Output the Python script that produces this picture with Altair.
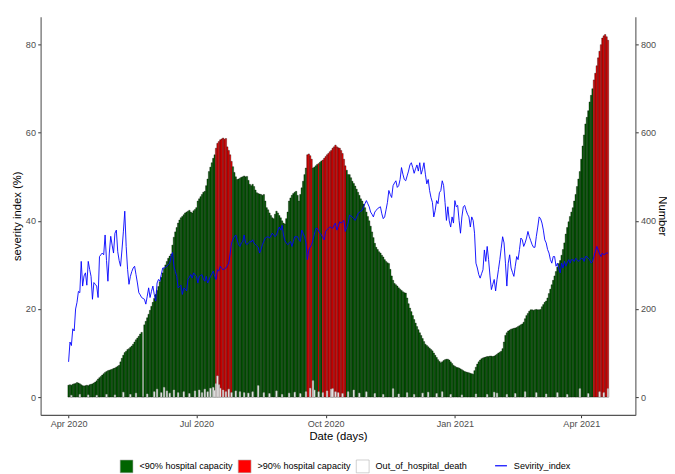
import altair as alt
import pandas as pd

# ---- data (one value per day, starting 2020-04-01) ----
hospital = [
    27, 28, 27, 29, 30, 31, 33, 32, 30, 28,
    26, 25, 26, 27, 26, 28, 29, 30, 32, 34,
    37, 41, 44, 47, 50, 53, 56, 58, 60, 61,
    62, 63, 65, 66, 68, 70, 72, 80, 88, 95,
    101, 104, 108, 110, 113, 116, 120, 125, 130, 134,
    138, 143, 147, 0, 164, 172, 180, 188, 197, 206,
    215, 224, 233, 242, 251, 262, 272, 282, 292, 300,
    308, 315, 320, 325, 345, 363, 375, 385, 395, 402,
    407, 410, 414, 418, 420, 422, 424, 420, 418, 423,
    426, 430, 445, 450, 455, 460, 465, 467, 480, 495,
    512, 522, 532, 542, 550, 565, 576, 580, 584, 586,
    588, 585, 587, 568, 560, 550, 535, 523, 510, 500,
    494, 495, 497, 499, 500, 502, 500, 501, 492, 483,
    480, 483, 478, 470, 464, 462, 461, 460, 458, 460,
    445, 430, 425, 418, 412, 407, 405, 415, 422, 418,
    412, 407, 400, 395, 393, 405, 420, 445, 452, 458,
    462, 465, 467, 458, 445, 460, 475, 490, 505, 520,
    550, 552, 548, 540, 520, 522, 525, 528, 530, 533,
    536, 538, 542, 546, 550, 553, 557, 560, 565, 568,
    572, 568, 566, 565, 560, 553, 540, 525, 515, 505,
    505, 498, 490, 485, 479, 472, 465, 458, 450, 445,
    438, 430, 420, 410, 400, 388, 375, 362, 349, 340,
    335, 330, 327, 322, 318, 312, 308, 305, 303, 290,
    275, 265, 258, 255, 252, 248, 245, 242, 239, 237,
    236, 225, 212, 202, 194, 185, 176, 168, 160, 153,
    146, 140, 133, 126, 120, 117, 114, 111, 108, 105,
    100, 95, 90, 85, 81, 78, 80, 83, 85, 86,
    86, 84, 80, 76, 72, 70, 68, 67, 66, 64,
    62, 60, 58, 57, 56, 55, 54, 53, 52, 60,
    68, 75, 80, 84, 87, 89, 90, 91, 92, 92,
    93, 93, 92, 93, 95, 97, 100, 102, 104, 110,
    125, 140, 146, 150, 152, 154, 155, 156, 157, 158,
    160, 162, 164, 166, 170, 178, 185, 190, 195, 198,
    198, 197, 198, 199, 198, 198, 199, 205, 210, 215,
    218, 225, 235, 245, 255, 265, 275, 285, 295, 303,
    310, 322, 335, 350, 370, 385, 398, 410, 420, 430,
    445, 460, 478, 495, 512, 540, 570, 595, 620, 635,
    650, 670, 685, 700, 720, 735, 752, 770, 785, 800,
    815, 820, 823, 818, 810,
]

severity = [
    8.0, 12.5, 11.7, 15.5, 15.0, 20.0, 21.5, 24.0, 23.7, 30.8,
    25.2, 27.5, 28.2, 25.4, 30.8, 29.0, 27.4, 22.2, 26.0, 25.6,
    25.2, 22.6, 31.9, 32.3, 32.7, 32.3, 36.8, 31.0, 26.3, 32.7,
    36.5, 34.5, 32.7, 37.2, 37.9, 33.0, 31.0, 29.7, 33.4, 37.5,
    42.2, 34.2, 29.0, 25.6, 27.4, 28.5, 29.3, 29.7, 27.8, 25.9,
    23.7, 23.2, 22.6, 22.4, 22.2, 21.1, 22.9, 24.8, 22.6, 24.0,
    25.2, 23.3, 21.8, 25.9, 26.7, 26.3, 27.8, 29.3, 29.3, 29.5,
    29.7, 30.1, 30.4, 31.9, 32.8, 29.7, 28.5, 27.4, 24.8, 25.1,
    25.4, 23.3, 24.8, 24.5, 24.1, 26.7, 27.2, 27.8, 27.0, 28.2,
    27.8, 27.4, 25.9, 27.4, 27.6, 27.8, 26.7, 26.3, 27.4, 25.9,
    26.6, 27.4, 28.0, 28.6, 27.4, 26.7, 28.9, 28.6, 29.7, 29.2,
    28.9, 29.1, 29.3, 29.8, 30.4, 32.5, 35.0, 35.7, 36.4, 36.8,
    35.7, 34.6, 34.2, 35.0, 35.3, 36.8, 35.0, 34.6, 35.0, 35.3,
    35.2, 35.7, 35.0, 34.6, 34.3, 34.0, 32.7, 33.5, 34.6, 35.4,
    36.1, 36.3, 36.4, 36.1, 36.6, 37.2, 36.8, 36.4, 36.8, 37.8,
    38.6, 37.9, 39.0, 36.8, 35.5, 35.0, 34.6, 34.9, 35.3, 34.2,
    35.3, 36.4, 36.4, 36.4, 35.6, 35.3, 37.9, 37.2, 36.4, 35.0,
    31.2, 33.4, 34.0, 34.6, 35.7, 37.0, 38.3, 38.3, 37.7, 37.2,
    36.8, 36.2, 35.7, 37.6, 38.0, 38.3, 38.6, 38.5, 38.3, 39.0,
    39.5, 37.9, 38.8, 39.8, 39.5, 39.8, 40.1, 37.6, 38.5, 39.5,
    41.3, 41.1, 40.9, 40.5, 40.1, 40.8, 41.6, 42.0, 42.2, 42.4,
    43.2, 43.9, 44.6, 43.9, 43.2, 42.0, 41.5, 40.9, 42.0, 42.4,
    42.8, 43.0, 43.2, 41.6, 40.5, 40.9, 42.5, 44.2, 46.9, 46.0,
    45.3, 48.0, 48.6, 49.1, 47.6, 48.0, 49.4, 52.1, 50.6, 49.4,
    49.1, 50.2, 51.3, 52.7, 53.2, 52.1, 50.8, 51.8, 52.7, 51.3,
    53.2, 50.6, 51.7, 53.2, 50.6, 48.4, 49.4, 46.9, 45.3, 44.2,
    40.9, 42.4, 44.6, 43.9, 46.4, 46.9, 49.1, 48.0, 44.2, 40.1,
    43.2, 40.0, 38.6, 40.9, 39.5, 44.6, 43.2, 43.5, 40.1, 37.2,
    40.9, 43.2, 43.5, 42.4, 41.5, 40.9, 38.6, 40.9, 40.1, 37.2,
    30.4, 29.3, 27.8, 27.0, 28.0, 28.9, 33.4, 30.8, 34.2, 31.2,
    27.5, 24.4, 25.6, 26.7, 24.1, 26.7, 28.9, 31.2, 33.8, 36.4,
    35.0, 30.4, 25.2, 30.4, 32.3, 29.3, 28.3, 27.4, 29.7, 31.9,
    31.2, 33.5, 36.1, 35.7, 34.2, 35.0, 36.1, 37.6, 36.4, 35.5,
    34.6, 34.0, 34.0, 36.5, 38.6, 40.9, 40.5, 39.5, 37.9, 35.7,
    35.0, 33.5, 32.7, 31.2, 30.4, 31.9, 31.9, 29.7, 30.4, 29.0,
    28.2, 30.4, 29.3, 30.8, 29.7, 30.5, 31.2, 30.4, 31.2, 31.2,
    30.8, 31.5, 31.2, 30.8, 31.2, 31.5, 31.5, 30.8, 31.9, 31.9,
    31.5, 31.2, 30.4, 30.8, 31.9, 33.0, 34.2, 33.4, 32.5, 31.9,
    32.7, 32.3, 32.5, 32.7, 32.7,
]

# periods above 90% hospital capacity (first day, last day)
red_periods = [
    ("2020-07-15", "2020-07-26"),
    ("2020-09-18", "2020-09-21"),
    ("2020-09-26", "2020-09-26"),
    ("2020-09-29", "2020-10-15"),
    ("2021-04-10", "2021-04-20"),
]

# out-of-hospital deaths: day index (from 2020-04-01) and count
ooh_day = [2, 8, 14, 20, 27, 33, 39, 44, 48, 56, 61, 63, 66, 68, 70, 72, 75, 78,
           82, 86, 90, 93, 95, 97, 99, 101, 103, 104, 105, 106, 107, 108, 110,
           112, 114, 116, 119, 122, 125, 128, 131, 135, 139, 143, 148, 152, 157,
           161, 165, 169, 172, 174, 175, 178, 181, 184, 187, 188, 190, 192, 195,
           199, 203, 207, 212, 218, 224, 231, 235, 241, 246, 252, 256, 262, 266,
           272, 280, 290, 298, 303, 305, 312, 318, 325, 333, 340, 348, 355, 364,
           370, 378, 381, 384]
ooh_value = [4, 6, 5, 4, 6, 5, 11, 6, 9, 7, 12, 18, 10, 22, 14, 9, 16, 10,
             12, 8, 14, 16, 10, 18, 12, 20, 22, 15, 30, 48, 28, 20, 16,
             12, 18, 10, 14, 12, 10, 9, 12, 26, 10, 8, 14, 6, 9,
             11, 8, 12, 20, 37, 16, 12, 10, 14, 18, 19, 12, 10, 8,
             12, 16, 9, 12, 8, 6, 19, 7, 10, 6, 9, 11, 8, 12,
             6, 5, 7, 6, 11, 9, 6, 8, 12, 10, 7, 10, 6, 19,
             8, 12, 10, 19]

categories = ["<90% hospital capacity", ">90% hospital capacity", "Out_of_hospital_death"]
fill_colors = ["#006400", "#FF0000", "#FFFFFF"]
line_label = "Sevirity_index"

# ---- tables ----
dates = pd.date_range("2020-04-01", periods=len(hospital), freq="D")
half = pd.Timedelta(hours=12)
fmt = "%Y-%m-%dT%H:%M:%S"

is_red = [False] * len(dates)
for a, b in red_periods:
    for i, d in enumerate(dates):
        if pd.Timestamp(a) <= d <= pd.Timestamp(b):
            is_red[i] = True

bars_df = pd.DataFrame({
    "start": (dates - half).strftime(fmt),
    "end": (dates + half).strftime(fmt),
    "number": hospital,
    "category": [categories[1] if r else categories[0] for r in is_red],
})
ooh_dates = dates[ooh_day]
ooh_df = pd.DataFrame({
    "start": (ooh_dates - half).strftime(fmt),
    "end": (ooh_dates + half).strftime(fmt),
    "number": ooh_value,
    "category": categories[2],
})
bar_data = pd.concat([bars_df, ooh_df], ignore_index=True)

line_df = pd.DataFrame({"date": dates.strftime(fmt), "severity": severity, "series": line_label})

# ---- scales / axes ----
FONT = "Liberation Sans"
x_scale = alt.Scale(domain=[alt.DateTime(year=2020, month=3, date=12, hours=2),
                            alt.DateTime(year=2021, month=5, date=9, hours=12)])
x_axis = alt.Axis(
    values=[alt.DateTime(year=2020, month=4, date=1), alt.DateTime(year=2020, month=7, date=1),
            alt.DateTime(year=2020, month=10, date=1), alt.DateTime(year=2021, month=1, date=1),
            alt.DateTime(year=2021, month=4, date=1)],
    format="%b %Y", title="Date (days)", titlePadding=2,
)
num_scale = alt.Scale(domain=[-40.4, 863.4], nice=False, zero=False)
sev_scale = alt.Scale(domain=[-4.04, 86.34], nice=False, zero=False)

is_ooh = alt.datum.category == categories[2]

bars = alt.Chart(bar_data).mark_bar().encode(
    x=alt.X("start:T", scale=x_scale, axis=x_axis),
    x2="end:T",
    y=alt.Y("number:Q", scale=num_scale, stack=None,
            axis=alt.Axis(orient="right", values=[0, 200, 400, 600, 800], title="Number",
                          titlePadding=1)),
    y2=alt.datum(0),
    fill=alt.Fill("category:N", scale=alt.Scale(domain=categories, range=fill_colors),
                  legend=alt.Legend(orient="none", legendX=80, legendY=448, direction="horizontal",
                                    title=None, symbolType="square", symbolSize=169,
                                    symbolStrokeColor="#b0b0b0", symbolStrokeWidth=0.6,
                                    labelOffset=6, columnPadding=3.5, padding=0)),
    stroke=alt.condition(is_ooh, alt.value("#a8a8a8"), alt.value("#000000")),
    strokeWidth=alt.condition(is_ooh, alt.value(0.6), alt.value(0.35)),
)

line = alt.Chart(line_df).mark_line(strokeWidth=0.9).encode(
    x=alt.X("date:T", scale=x_scale, axis=x_axis),
    y=alt.Y("severity:Q", scale=sev_scale,
            axis=alt.Axis(orient="left", values=[0, 20, 40, 60, 80], title="severity index (%)",
                          titlePadding=3)),
    stroke=alt.Stroke("series:N", scale=alt.Scale(domain=[line_label], range=["#0000FF"]),
                      legend=alt.Legend(orient="none", legendX=459, legendY=447.5,
                                        title=None, symbolType="stroke", symbolSize=144,
                                        symbolStrokeWidth=1.2, labelOffset=6, padding=0)),
)

chart = alt.layer(bars, line).resolve_scale(y="independent").properties(
    width=602, height=403,
    padding={"left": 33, "top": 6, "right": 32, "bottom": 57},
    autosize=alt.AutoSizeParams(type="none"),
    background="white",
).configure_view(stroke=None).configure_axis(
    grid=False,
    labelFont=FONT, labelFontSize=9.2, labelColor="#4D4D4D", labelPadding=2.3,
    titleFont=FONT, titleFontSize=11.4, titleFontWeight="normal", titleColor="#000000",
    tickColor="#333333", tickSize=2.9, tickWidth=1,
    domainColor="#555555", domainWidth=1.1,
).configure_legend(
    labelFont=FONT, labelFontSize=9.2, labelColor="#000000",
)

chart.save("out.html", embed_options={"renderer": "svg", "actions": False})
